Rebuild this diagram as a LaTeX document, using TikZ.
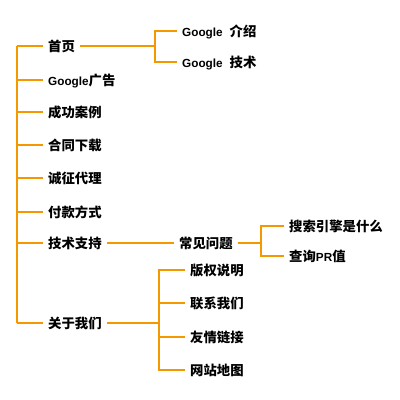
\documentclass[tikz,border=0pt]{standalone}
\usepackage{fontspec}
\setmainfont{Noto Sans CJK SC}
\newfontfamily\latf[Scale=0.88]{Liberation Sans}
\usetikzlibrary{positioning}
\definecolor{menuO}{RGB}{243,152,0}
\newcommand{\lat}[1]{{\latf #1}}
\tikzset{
  item/.style={anchor=west, font=\bfseries\fontsize{9.5}{11}\selectfont,
    inner xsep=3.5pt, inner ysep=0pt, text height=0.86em, text depth=0.12em},
  link/.style={menuO, line width=0.75pt}
}
\begin{document}
\begin{tikzpicture}[x=0.025cm, y=-0.025cm]
\useasboundingbox (0,0) rectangle (400,400);
% junction columns
\coordinate (trunk) at (17,0);
\coordinate (homeJ) at (155,0);
\coordinate (faqJ) at (261,0);
\coordinate (aboutJ) at (159,0);
% left column
\node[item] (home) at (43,46) {首页};
\node[item] (ads) at (43,80) {\lat{Google}广告};
\node[item] (cases) at (43,112) {成功案例};
\node[item] (download) at (43,145) {合同下载};
\node[item] (agent) at (43,178) {诚征代理};
\node[item] (pay) at (43,212) {付款方式};
\node[item] (support) at (43,243) {技术支持};
\node[item] (about) at (43,323) {关于我们};
% second level
\node[item] (gintro) at (177,31) {\lat{Google}\hspace{5pt}介绍};
\node[item] (gtech) at (177,62) {\lat{Google}\hspace{5pt}技术};
\node[item] (faq) at (174,243) {常见问题};
\node[item] (copyr) at (185,270) {版权说明};
\node[item] (contact) at (185,303) {联系我们};
\node[item] (links) at (185,337) {友情链接};
\node[item] (sitemap) at (185,370) {网站地图};
% third level
\node[item] (search) at (284,226) {搜索引擎是什么};
\node[item] (pr) at (284,256) {查询\lat{PR}值};
% trunk and its branches
\draw[link] (home.west -| trunk) -- (about.west -| trunk);
\foreach \n in {home,ads,cases,download,agent,pay,support,about}
  \draw[link] (\n.west) -- (\n.west -| trunk);
% home
\draw[link] (home.east) -- (home.east -| homeJ);
\draw[link] (gintro.west) -| (homeJ |- gtech.west) -- (gtech.west);
% support
\draw[link] (support.east) -- (faq.west);
\draw[link] (faq.east) -- (faq.east -| faqJ);
\draw[link] (search.west) -| (faqJ |- pr.west) -- (pr.west);
% about
\draw[link] (about.east) -- (about.east -| aboutJ);
\draw[link] (copyr.west) -| (aboutJ |- sitemap.west) -- (sitemap.west);
\foreach \n in {contact,links}
  \draw[link] (\n.west) -- (\n.west -| aboutJ);
\end{tikzpicture}
\end{document}
